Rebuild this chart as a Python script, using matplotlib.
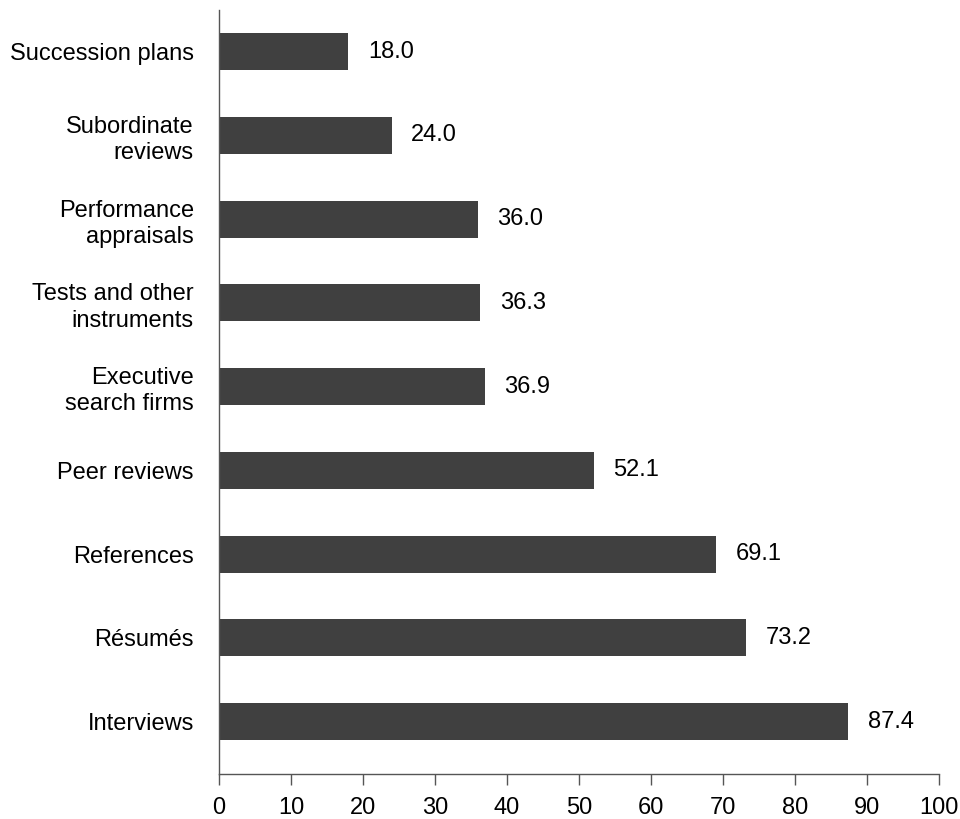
import matplotlib.pyplot as plt
import numpy as np

plt.rcParams['font.family'] = ['Liberation Sans', 'DejaVu Sans']

# bottom to top
categories = ['Interviews', 'Résumés', 'References', 'Peer reviews',
              'Executive\nsearch firms', 'Tests and other\ninstruments',
              'Performance\nappraisals', 'Subordinate\nreviews', 'Succession plans']
values = [87.4, 73.2, 69.1, 52.1, 36.9, 36.3, 36.0, 24.0, 18.0]
xticks = list(range(0, 101, 10))

fig = plt.figure(figsize=(9.6, 8.19), dpi=100)
ax = fig.add_axes([0.228, 0.0545, 0.75, 0.9335])

y = np.arange(len(categories))
ax.barh(y, values, height=0.44, color='#404040')

for yi, v in zip(y, values):
    ax.annotate(f'{v:.1f}', xy=(v, yi), xytext=(14, 0), textcoords='offset points',
                va='center', ha='left', fontsize=17)

ax.set_xlim(0, 100)
ax.set_ylim(-0.63, 8.5)
ax.set_xticks(xticks)
ax.set_yticks(y)
ax.set_yticklabels(categories, fontsize=17, linespacing=1.25)
ax.tick_params(axis='y', length=0, pad=18)
ax.tick_params(axis='x', length=8, width=1, color='#555555', pad=8, labelsize=17)

for s in ['top', 'right']:
    ax.spines[s].set_visible(False)
for s in ['left', 'bottom']:
    ax.spines[s].set_color('#555555')
    ax.spines[s].set_linewidth(1)

fig.savefig('out.png', dpi=100)
